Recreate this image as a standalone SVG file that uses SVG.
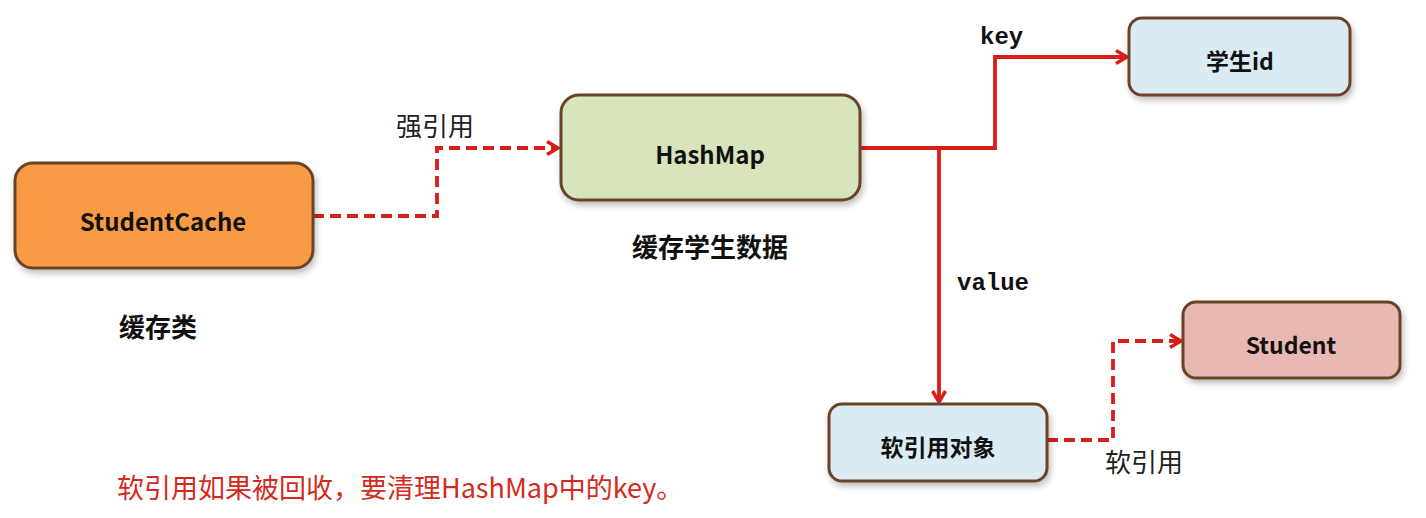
<svg xmlns="http://www.w3.org/2000/svg" width="1426" height="518" viewBox="0 0 1426 518">
<style>
.box{stroke:#6B4226;stroke-width:3;filter:url(#sh)}
.nt{font-family:"Noto Sans CJK SC","Noto Sans",sans-serif;font-weight:bold;font-size:23px;fill:#111;text-anchor:middle;dominant-baseline:central}
.cap{font-family:"Noto Sans CJK SC",sans-serif;font-weight:bold;font-size:26px;fill:#111;text-anchor:middle}
.lbl{font-family:"Noto Sans CJK SC",sans-serif;font-size:26px;fill:#222;text-anchor:middle}
.mono{font-family:"Liberation Mono","DejaVu Sans Mono",monospace;font-weight:bold;font-size:24px;fill:#111}
.solid{fill:none;stroke:#D81E18;stroke-width:3.8}
.dash{fill:none;stroke:#D81E18;stroke-width:3.8;stroke-dasharray:11 6}
</style>
<defs>
<filter id="sh" x="-10%" y="-10%" width="125%" height="135%">
<feDropShadow dx="2" dy="4" stdDeviation="3" flood-color="#000" flood-opacity="0.25"/>
</filter>
<marker id="arr" viewBox="0 0 16 16" refX="14" refY="8" markerWidth="16" markerHeight="16" markerUnits="userSpaceOnUse" orient="auto">
<path d="M3,1.5 L14,8 L3,14.5" fill="none" stroke="#D81E18" stroke-width="3.5"/>
</marker>
</defs>
<rect width="1426" height="518" fill="#fff"/>
<g id="connectors">
<path class="dash" d="M313,216 H437 V148 H558" marker-end="url(#arr)"/>
<path class="solid" d="M860,148 H995 V57 H1127" marker-end="url(#arr)"/>
<path class="solid" d="M939,148 V402" marker-end="url(#arr)"/>
<path class="dash" d="M1047,440 H1113 V341 H1181" marker-end="url(#arr)"/>
<text class="lbl" x="435" y="136">强引用</text>
<text class="mono" x="980" y="44">key</text>
<text class="mono" x="957" y="290">value</text>
<text class="lbl" x="1144" y="472">软引用</text>
</g>
<g id="StudentCache">
<rect class="box" x="15" y="163" width="298" height="105" rx="18" fill="#F99B45"/>
<text class="nt" x="163" y="220" style="font-size:24px">StudentCache</text>
</g>
<g id="HashMap">
<rect class="box" x="561" y="95" width="299" height="105" rx="18" fill="#D8E4BC"/>
<text class="nt" x="710" y="153" style="font-size:24px">HashMap</text>
</g>
<g id="StudentId">
<rect class="box" x="1129" y="18" width="221" height="77" rx="13" fill="#DAEBF4"/>
<text class="nt" x="1240" y="60">学生id</text>
</g>
<g id="Student">
<rect class="box" x="1183" y="302" width="217" height="76" rx="13" fill="#E8B9B2"/>
<text class="nt" x="1291" y="344">Student</text>
</g>
<g id="SoftRef">
<rect class="box" x="829" y="404" width="218" height="77" rx="13" fill="#DAEBF4"/>
<text class="nt" x="938" y="446">软引用对象</text>
</g>
<text class="cap" x="158" y="337">缓存类</text>
<text class="cap" x="710" y="257">缓存学生数据</text>
<text x="117" y="498" style="font-family:'Noto Sans CJK SC',sans-serif;font-size:27px;fill:#D42A1E">软引用如果被回收，要清理HashMap中的key。</text>
</svg>
